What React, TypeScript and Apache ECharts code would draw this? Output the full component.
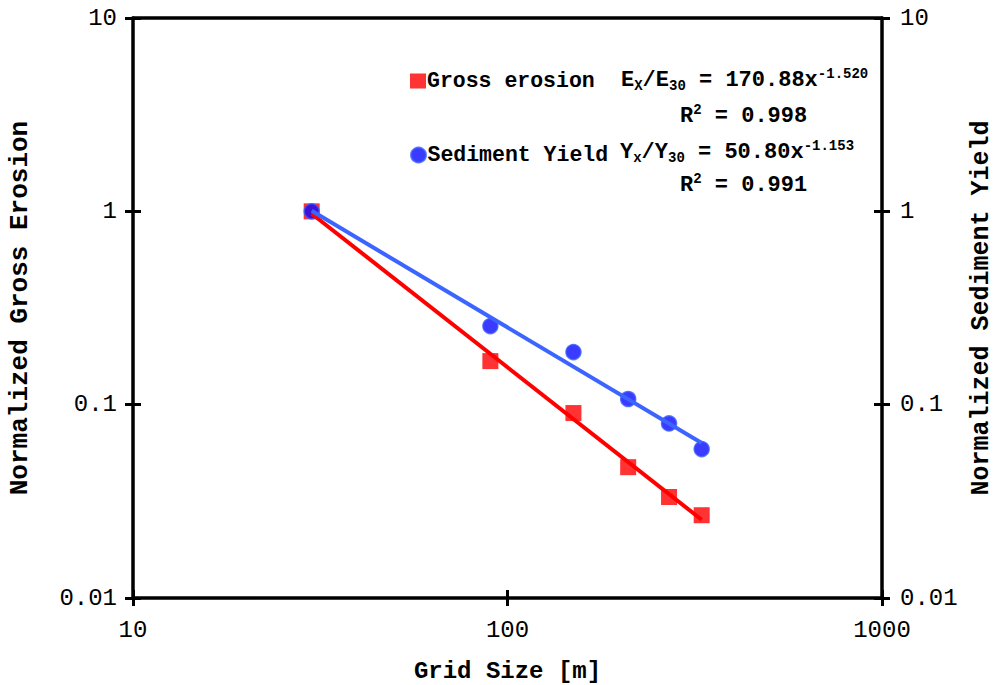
import React, { useEffect, useRef } from "react";
import * as echarts from "echarts";

const gridSizes = [30, 90, 150, 210, 270, 330];
const grossErosion = [1.0, 0.168, 0.0905, 0.0475, 0.0333, 0.0268];
const sedimentYield = [1.0, 0.255, 0.187, 0.107, 0.080, 0.0589];
const grossFit = [[30, 0.972], [330, 0.0254]];
const sedimentFit = [[30, 1.006], [330, 0.0633]];
const xTicks = [10, 100, 1000];
const yTicks = [0.01, 0.1, 1, 10];

const FONT = "'Liberation Mono', 'Courier New', monospace";

export default function App() {
  const ref = useRef<HTMLDivElement>(null);
  useEffect(() => {
    if (!ref.current) return;
    const chart = echarts.init(ref.current, null, { renderer: "svg" });
    const axisLine = { show: true, lineStyle: { color: "#000", width: 3.5 } };
    const tickOut = { show: true, inside: false, length: 8, lineStyle: { color: "#000", width: 3 } };
    const tickIn = { show: true, inside: true, length: 8, lineStyle: { color: "#000", width: 3 } };
    const labelStyle = { fontFamily: FONT, fontSize: 24, color: "#000" };
    const nameStyle = { fontFamily: FONT, fontSize: 24, fontWeight: "bold", color: "#000" };
    const grossData = gridSizes.map((x, i) => [x, grossErosion[i]]);
    const sedData = gridSizes.map((x, i) => [x, sedimentYield[i]]);
    const rich = {
      b: { fontFamily: FONT, fontSize: 22, fontWeight: "bold", color: "#000", lineHeight: 30, verticalAlign: "middle" },
      s: { fontFamily: FONT, fontSize: 14, fontWeight: "bold", color: "#000", lineHeight: 30, verticalAlign: "bottom", padding: [0, 0, 2, 0] },
      p: { fontFamily: FONT, fontSize: 14, fontWeight: "bold", color: "#000", lineHeight: 30, verticalAlign: "top", padding: [2, 0, 0, 0] },
    };
    const yLabelFmt = (v: number) => (yTicks.some((t) => Math.abs(t - v) < 1e-9) ? String(v) : "");
    const legendText = { fontFamily: FONT, fontSize: 21.5, fontWeight: "bold", color: "#000", padding: [0, 0, 0, -4] };
    chart.setOption({
      animation: false,
      backgroundColor: "#fff",
      grid: { left: 133, right: 113, top: 18, bottom: 87, containLabel: false, outerBoundsMode: "none" },
      xAxis: [
        {
          type: "log", logBase: 10, min: 10, max: 1000, position: "bottom",
          name: "Grid Size [m]", nameLocation: "middle", nameGap: 61, nameTextStyle: nameStyle,
          axisLine, axisTick: tickOut, splitLine: { show: false }, minorTick: { show: false },
          axisLabel: { ...labelStyle, margin: 20, formatter: (v: number) => (xTicks.includes(v) ? String(v) : "") },
        },
        {
          type: "log", logBase: 10, min: 10, max: 1000, position: "bottom",
          axisLine: { show: false }, axisTick: tickIn, axisLabel: { show: false }, splitLine: { show: false },
        },
        {
          type: "log", logBase: 10, min: 10, max: 1000, position: "top",
          axisLine, axisTick: { show: false }, axisLabel: { show: false }, splitLine: { show: false },
        },
      ],
      yAxis: [
        {
          type: "log", logBase: 10, min: 0.01, max: 10, position: "left",
          name: "Normalized Gross Erosion", nameLocation: "middle", nameGap: 100, nameRotate: 90,
          nameTextStyle: { ...nameStyle, fontSize: 26 },
          axisLine, axisTick: tickOut, splitLine: { show: false },
          axisLabel: { ...labelStyle, margin: 16, formatter: yLabelFmt },
        },
        {
          type: "log", logBase: 10, min: 0.01, max: 10, position: "left",
          axisLine: { show: false }, axisTick: tickIn, axisLabel: { show: false }, splitLine: { show: false },
        },
        {
          type: "log", logBase: 10, min: 0.01, max: 10, position: "right",
          name: "Normalized Sediment Yield", nameLocation: "middle", nameGap: 82, nameRotate: 90,
          nameTextStyle: { ...nameStyle, fontSize: 25, lineHeight: 25 },
          axisLine, axisTick: tickOut, splitLine: { show: false },
          axisLabel: { ...labelStyle, margin: 18, formatter: yLabelFmt },
        },
        {
          type: "log", logBase: 10, min: 0.01, max: 10, position: "right",
          axisLine: { show: false }, axisTick: tickIn, axisLabel: { show: false }, splitLine: { show: false },
        },
      ],
      legend: [
        {
          orient: "vertical", left: 405, top: 65, itemWidth: 16, itemHeight: 15, itemGap: 0,
          data: [{ name: "Gross erosion", icon: "rect" }],
          textStyle: legendText,
          selectedMode: false,
        },
        {
          orient: "vertical", left: 405, top: 139, itemWidth: 16, itemHeight: 15, itemGap: 0,
          data: [{ name: "Sediment Yield", icon: "circle" }],
          textStyle: legendText,
          selectedMode: false,
        },
      ],
      graphic: [
        { type: "text", left: 621, top: 65, style: { text: "{b|E}{s|X}{b|/E}{s|30}{b| = 170.88x}{p|-1.520}", rich } },
        { type: "text", left: 680, top: 101, style: { text: "{b|R}{p|2}{b| = 0.998}", rich } },
        { type: "text", left: 620, top: 137, style: { text: "{b|Y}{s|x}{b|/Y}{s|30}{b| = 50.80x}{p|-1.153}", rich } },
        { type: "text", left: 680, top: 170, style: { text: "{b|R}{p|2}{b| = 0.991}", rich } },
      ],
      series: [
        {
          name: "Gross erosion", type: "scatter", data: grossData, symbol: "rect", symbolSize: 16,
          itemStyle: { color: "#ff0000" }, z: 2,
        },
        {
          name: "Sediment Yield", type: "scatter", data: sedData, symbol: "circle", symbolSize: 15,
          itemStyle: { color: "#0a0aff", borderColor: "#3a5cff", borderWidth: 1.5 }, z: 3,
        },
        {
          name: "Gross fit", type: "line", data: grossFit, symbol: "none",
          lineStyle: { color: "#ff0000", width: 4 }, z: 4,
        },
        {
          name: "Sediment fit", type: "line", data: sedimentFit, symbol: "none",
          lineStyle: { color: "#3c64ff", width: 4 }, z: 4,
        },
      ],
    });
    return () => chart.dispose();
  }, []);
  return <div ref={ref} style={{ width: 995, height: 685, position: "absolute", left: 0, top: 0 }} />;
}
